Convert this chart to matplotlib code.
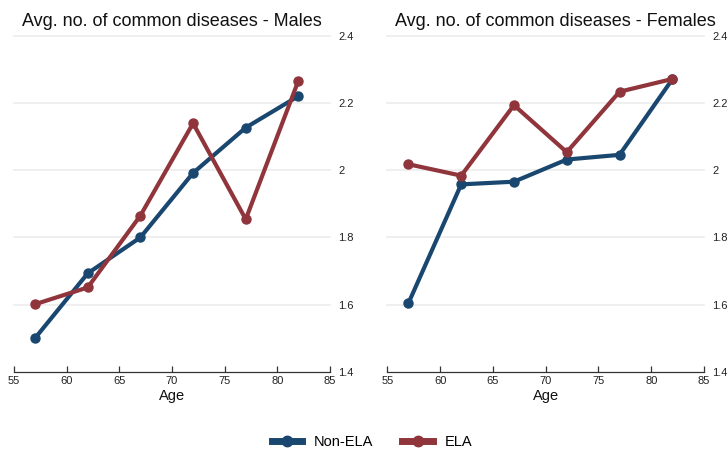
import matplotlib
matplotlib.use("Agg")
import matplotlib.pyplot as plt
from matplotlib.lines import Line2D

plt.rcParams['font.family'] = ['Liberation Sans', 'DejaVu Sans']

# Age groups and average number of common diseases
ages = [57, 62, 67, 72, 77, 82]
males_non_ela = [1.50, 1.693, 1.80, 1.992, 2.127, 2.221]
males_ela = [1.601, 1.651, 1.865, 2.140, 1.854, 2.267]
females_non_ela = [1.604, 1.958, 1.966, 2.032, 2.046, 2.271]
females_ela = [2.018, 1.984, 2.194, 2.054, 2.234, 2.272]

titles = ["Avg. no. of common diseases - Males",
          "Avg. no. of common diseases - Females"]
x_ticks = [55, 60, 65, 70, 75, 80, 85]
y_ticks = [1.4, 1.6, 1.8, 2.0, 2.2, 2.4]
y_tick_labels = ["1.4", "1.6", "1.8", "2", "2.2", "2.4"]
series_labels = ["Non-ELA", "ELA"]

NAVY = "#1a476f"
MAROON = "#90353b"
GRID = "#ececec"

W, H = 728, 449
fig = plt.figure(figsize=(W / 100, H / 100), dpi=100)

panels = [
    (14, 330, males_non_ela, males_ela, titles[0], 0.5),
    (387.3, 704, females_non_ela, females_ela, titles[1], 0.53),
]
bottom_px, top_px = 371.7, 36

for x0, x1, non_ela, ela, title, tx in panels:
    ax = fig.add_axes([x0 / W, 1 - bottom_px / H, (x1 - x0) / W, (bottom_px - top_px) / H])
    ax.set_xlim(55, 85)
    ax.set_ylim(1.4, 2.4)
    for yv in y_ticks[1:]:
        ax.axhline(yv, color=GRID, lw=1.2, zorder=0, clip_on=False)
    ax.plot(ages, non_ela, color=NAVY, lw=3, marker='o', ms=6.5, zorder=3,
            solid_capstyle='round')
    ax.plot(ages, ela, color=MAROON, lw=3, marker='o', ms=6.5, zorder=3,
            solid_capstyle='round')
    for s in ['top', 'left', 'right']:
        ax.spines[s].set_visible(False)
    ax.spines['bottom'].set_color('#333333')
    ax.spines['bottom'].set_linewidth(0.9)
    ax.set_xticks(x_ticks)
    ax.set_xticklabels([str(v) for v in x_ticks])
    ax.set_yticks(y_ticks)
    ax.set_yticklabels(y_tick_labels)
    ax.yaxis.tick_right()
    ax.tick_params(axis='x', direction='in', length=4, width=0.9, color='#333333',
                   labelsize=8, pad=3, labelcolor='#222222')
    ax.tick_params(axis='y', length=0, labelsize=8, pad=6, labelcolor='#222222')
    ax.set_xlabel("Age", fontsize=10.5, labelpad=2, color='#111111')
    ax.set_title(title, fontsize=13, x=tx, pad=7, color='#111111')
    ax.set_facecolor('white')

handles = [
    Line2D([], [], color=NAVY, lw=5, marker='o', ms=7.5),
    Line2D([], [], color=MAROON, lw=5, marker='o', ms=7.5),
]
fig.legend(handles, series_labels, loc='center', ncol=2,
           bbox_to_anchor=(372 / W, 1 - 441.7 / H), frameon=False,
           fontsize=10.5, handlelength=2.1, handletextpad=0.8,
           columnspacing=2.0)

fig.savefig("out.png", dpi=100, facecolor='white')
